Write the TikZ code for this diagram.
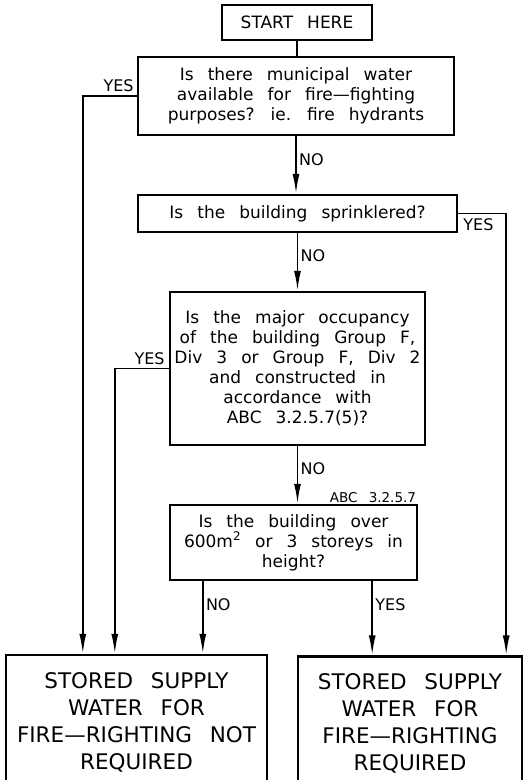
\documentclass[tikz,border=0pt]{standalone}
\usepackage{fontspec}
\setmainfont[WordSpace=2.2]{DejaVu Sans}
\newfontfamily\bigfont[WordSpace=2.6,Ligatures=TeX]{DejaVu Sans}
\usetikzlibrary{arrows.meta}

\begin{document}
\begin{tikzpicture}[x=1pt, y=-1pt, node distance=2cm]
                \tikzset{ block/.style={rectangle,draw,line width=2.4pt,inner sep=0pt,align=center,font=\fontsize{17}{20}\selectfont},
                        result/.style={block,minimum width=261pt,minimum height=134pt,font=\bigfont\fontsize{21.5}{27}\selectfont},
                        arrow/.style={-{Latex[length=20pt,width=7pt]}, line width=1.8pt},
                        link/.style={line width=1.8pt},
                        lbl/.style={inner sep=1pt,font=\fontsize{16}{17}\selectfont}}
                \useasboundingbox (0,0) rectangle (530,780);

                \node[block, minimum width=150pt, minimum height=35pt] (start) at (297,22.5) {START HERE};
                \node[block, below of = start, node distance=73.5pt, xshift=-1pt, minimum width=316pt, minimum height=78pt] (water) {Is there municipal water\\available for fire\textemdash fighting\\purposes? ie. fire hydrants};
                \node[block, below of = water, node distance=117.5pt, xshift=1.5pt, minimum width=319pt, minimum height=37pt] (sprink) {Is the building sprinklered?};
                \node[block, below of = sprink, node distance=155pt, minimum width=255pt, minimum height=153pt] (occ) {Is the major occupancy\\of the building Group F,\\Div 3 or Group F, Div 2\\and constructed in\\accordance with\\ABC 3.2.5.7(5)?};
                \node[block, below of = occ, node distance=174pt, xshift=-4pt, minimum width=247pt, minimum height=75pt] (hgt) {Is the building over\\600m\textsuperscript{2} or 3 storeys in\\height?};

                \node[result, below of = hgt, node distance=179.5pt, xshift=-157pt] (notreq) {STORED SUPPLY\\WATER FOR\\FIRE\textemdash RIGHTING NOT\\REQUIRED};
                \node[result, right of = notreq, node distance=273.5pt, yshift=-1.5pt, minimum width=224pt] (req) {STORED SUPPLY\\WATER FOR\\FIRE\textemdash RIGHTING\\REQUIRED};

                % Flèches
                \draw[link] (start.south) -- (start.south |- water.north);
                \draw[arrow] (water.south) -- (water.south |- sprink.north);
                \draw[arrow] (sprink.south) -- (sprink.south |- occ.north);
                \draw[arrow] (occ.south) -- (occ.south |- hgt.north);
                \draw[arrow] (water.west) -| ([xshift=78pt]notreq.north west);
                \draw[arrow] (sprink.east) -| ([xshift=-17pt]req.north east);
                \draw[arrow] (occ.west) -| ([xshift=110pt]notreq.north west);
                \draw[arrow] ([xshift=34pt]hgt.south west) coordinate (n4) -- (n4 |- notreq.north);
                \draw[arrow] ([xshift=-46pt]hgt.south east) coordinate (y4) -- (y4 |- req.north);

                \node[lbl, anchor=south east] (yes1) at ([xshift=-2pt,yshift=3pt]water.west) {YES};
                \node[lbl, anchor=west] (no1) at ([xshift=2pt,yshift=-23pt]water.south) {NO};
                \node[lbl, anchor=north west] (yes2) at ([xshift=4pt,yshift=-4pt]sprink.east) {YES};
                \node[lbl, anchor=west] (no2) at ([xshift=2pt,yshift=-22pt]sprink.south) {NO};
                \node[lbl, anchor=south east] (yes3) at ([xshift=-3pt,yshift=3pt]occ.west) {YES};
                \node[lbl, anchor=west] (no3) at ([xshift=2pt,yshift=-22pt]occ.south) {NO};
                \node[lbl, anchor=south east, font=\fontsize{13.5}{14}\selectfont] (ref) at ([xshift=-1pt,yshift=0pt]hgt.north east) {ABC 3.2.5.7};
                \node[lbl, anchor=west] (no4) at ([xshift=2pt,yshift=-23pt]n4) {NO};
                \node[lbl, anchor=west] (yes4) at ([xshift=2pt,yshift=-23pt]y4) {YES};

            \end{tikzpicture}
\end{document}
